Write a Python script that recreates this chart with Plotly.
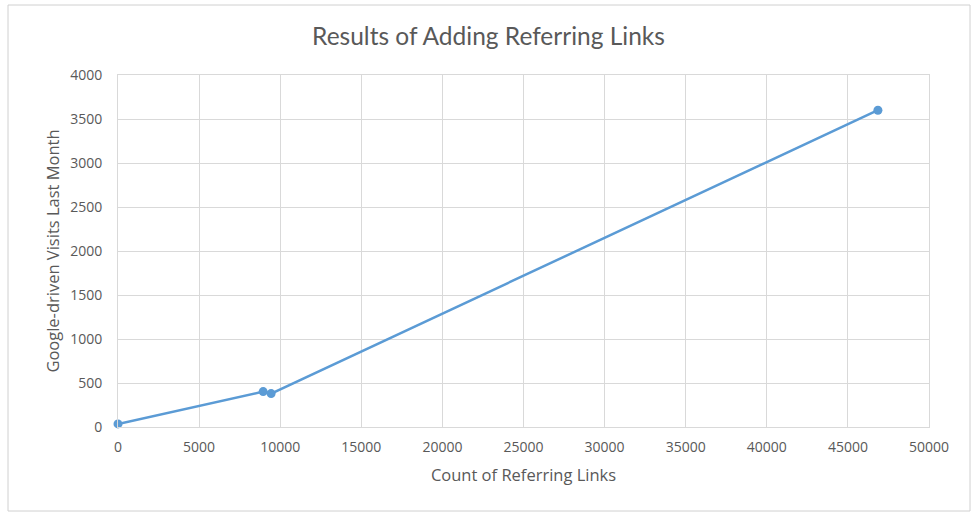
import plotly.graph_objects as go

referring_links = [0, 8950, 9440, 46850]
google_visits = [35, 402, 380, 3600]

x_ticks = [0, 5000, 10000, 15000, 20000, 25000, 30000, 35000, 40000, 45000, 50000]
y_ticks = [0, 500, 1000, 1500, 2000, 2500, 3000, 3500, 4000]

W, H = 977, 515
L, R, T, B = 118, 48, 75, 88

fig = go.Figure()
fig.add_trace(go.Scatter(
    x=referring_links, y=google_visits, mode="lines+markers",
    line=dict(color="#5B9BD5", width=2.5),
    marker=dict(color="#5B9BD5", size=9),
    showlegend=False, cliponaxis=False,
))

pw = W - L - R
ph = H - T - B
def px2paper_x(p):
    return (p - L) / pw
def px2paper_y(p):
    return (H - B - p) / ph

fig.add_shape(type="rect", xref="paper", yref="paper",
              x0=px2paper_x(8), x1=px2paper_x(970), y0=px2paper_y(511), y1=px2paper_y(5),
              line=dict(color="#D0D0D0", width=1), layer="below")

gray = "#595959"
fig.update_layout(
    width=W, height=H,
    margin=dict(l=L, r=R, t=T, b=B),
    paper_bgcolor="white", plot_bgcolor="white",
    font=dict(family="Open Sans, sans-serif", color=gray),
    title=dict(text="Results of Adding Referring Links", x=0.5, xanchor="center",
               y=1 - 36 / H, yanchor="middle",
               font=dict(size=24.5, color=gray, family="Lato, sans-serif")),
    xaxis=dict(range=[0, 50000], tickvals=x_ticks, ticktext=[str(v) for v in x_ticks],
               showgrid=True, gridcolor="#D9D9D9", gridwidth=1, zeroline=False,
               showline=True, linecolor="#D9D9D9", mirror=True,
               tickfont=dict(size=14, color=gray), ticks="", ticklabelstandoff=7,
               title=dict(text="Count of Referring Links", font=dict(size=16.5, color=gray), standoff=14)),
    yaxis=dict(range=[0, 4000], tickvals=y_ticks, ticktext=[str(v) for v in y_ticks],
               showgrid=True, gridcolor="#D9D9D9", gridwidth=1, zeroline=False,
               showline=True, linecolor="#D9D9D9", mirror=True,
               tickfont=dict(size=14, color=gray), ticks="", ticklabelstandoff=12,
               title=dict(text="Google-driven Visits Last Month", font=dict(size=16.5, color=gray), standoff=6)),
)

fig.write_html("out.html", config={"displayModeBar": False},
               post_script="document.body.style.margin='0';document.body.style.padding='0';")
